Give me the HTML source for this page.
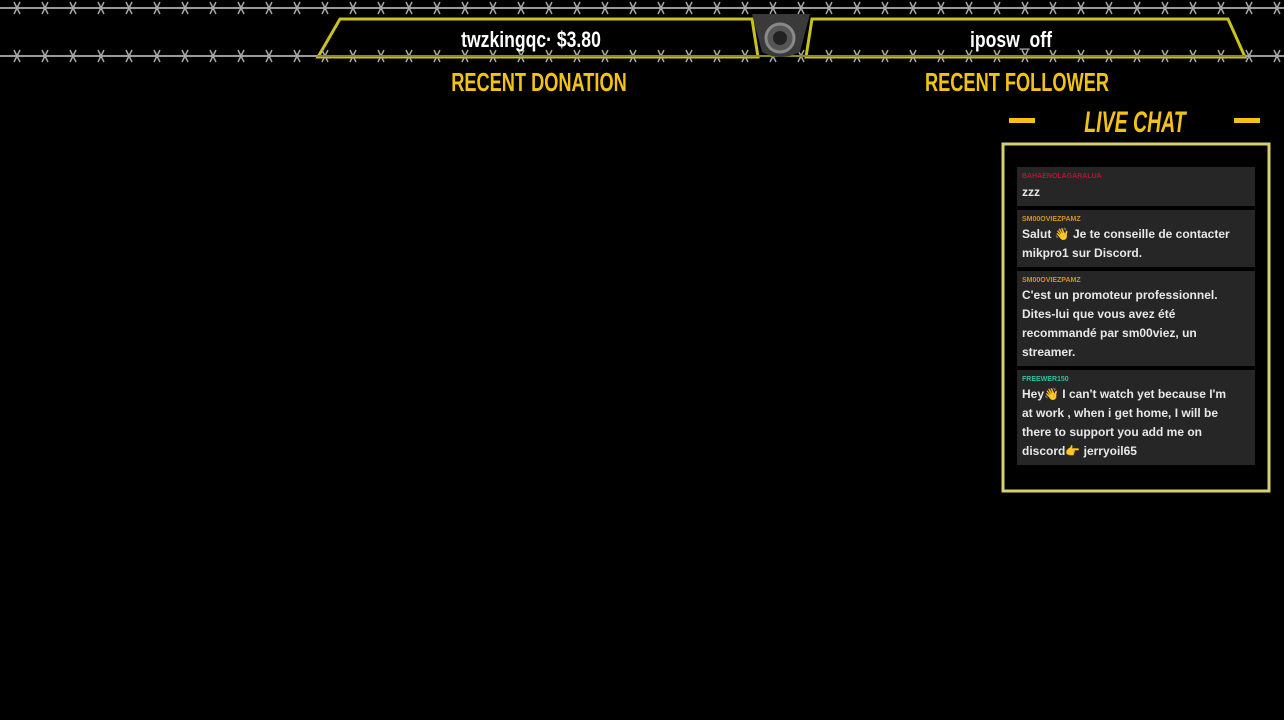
<!DOCTYPE html>
<html><head><meta charset="utf-8"><style>
html,body{margin:0;padding:0;background:#000;width:1284px;height:720px;overflow:hidden}
svg{display:block}
.c{font-family:"Liberation Sans",sans-serif;font-weight:bold}
</style></head><body>
<svg width="1284" height="720" viewBox="0 0 1284 720" xmlns="http://www.w3.org/2000/svg">
<defs>
<pattern id="barb" width="28" height="16" patternUnits="userSpaceOnUse" x="4" y="0">
<line x1="0" y1="8" x2="28" y2="8" stroke="#9a9a9a" stroke-width="2"/>
<line x1="10" y1="2" x2="16" y2="14" stroke="#aaa" stroke-width="1.5"/>
<line x1="16" y1="2" x2="10" y2="14" stroke="#aaa" stroke-width="1.5"/>
</pattern>
</defs>
<rect x="0" y="0" width="1284" height="720" fill="#000"/>
<!-- banner -->
<polygon points="340,19 752,19 758,57 318,57" fill="#000" stroke="#c8c21c" stroke-width="3"/>
<polygon points="812,19 1228,19 1245,57 806,57" fill="#000" stroke="#c8c21c" stroke-width="3"/>
<!-- barbed wires -->
<rect x="0" y="1" width="1284" height="16" fill="url(#barb)"/>
<rect x="0" y="47" width="1284" height="16" fill="url(#barb)"/>
<line x1="318" y1="56" x2="1245" y2="56" stroke="#8a8a20" stroke-width="2"/>
<!-- camera -->
<path d="M752,14 L810,14 L800,52 Q780,62 762,52 Z" fill="#3a3a3a"/>
<circle cx="780" cy="38" r="14" fill="#555" stroke="#888" stroke-width="3"/>
<circle cx="780" cy="38" r="7" fill="#222"/>
<text x="531" y="47" text-anchor="middle" class="c" font-size="22" fill="#fff" transform="translate(531 0) scale(0.8 1) translate(-531 0)">twzkingqc· $3.80</text>
<text x="1011" y="47" text-anchor="middle" class="c" font-size="22" fill="#fff" transform="translate(1011 0) scale(0.8 1) translate(-1011 0)">iposw_off</text>
<text x="539" y="91" text-anchor="middle" class="c" font-size="26" fill="#f2c314" transform="translate(539 0) scale(0.7 1) translate(-539 0)">RECENT DONATION</text>
<text x="1017" y="91" text-anchor="middle" class="c" font-size="26" fill="#f2c314" transform="translate(1017 0) scale(0.7 1) translate(-1017 0)">RECENT FOLLOWER</text>
<rect x="1009" y="118" width="26" height="5" fill="#f2c314"/>
<rect x="1234" y="118" width="26" height="5" fill="#f2c314"/>
<text x="1135" y="132" text-anchor="middle" class="c" font-size="30" font-style="italic" fill="#f2c314" transform="translate(1135 0) scale(0.65 1) translate(-1135 0)">LIVE CHAT</text>
<!-- chat box -->
<rect x="1003" y="144" width="266" height="347" fill="#000" stroke="#d8d070" stroke-width="3"/>
<rect x="1017" y="167" width="238" height="39" fill="#262626"/>
<rect x="1017" y="210" width="238" height="57" fill="#262626"/>
<rect x="1017" y="271" width="238" height="95" fill="#262626"/>
<rect x="1017" y="370" width="238" height="95" fill="#262626"/>
<g font-family="'Liberation Sans',sans-serif" font-weight="bold">
<text x="1022" y="178" font-size="7" fill="#c01030">BAHAENOLAGARALUA</text>
<text x="1022" y="196" font-size="12" fill="#e8e8e8">zzz</text>
<text x="1022" y="221" font-size="7" fill="#d89020">SM00OVIEZPAMZ</text>
<text x="1022" y="238" font-size="12" fill="#e8e8e8">Salut 👋 Je te conseille de contacter</text>
<text x="1022" y="257" font-size="12" fill="#e8e8e8">mikpro1 sur Discord.</text>
<text x="1022" y="282" font-size="7" fill="#d89020">SM00OVIEZPAMZ</text>
<text x="1022" y="299" font-size="12" fill="#e8e8e8">C'est un promoteur professionnel.</text>
<text x="1022" y="318" font-size="12" fill="#e8e8e8">Dites-lui que vous avez été</text>
<text x="1022" y="337" font-size="12" fill="#e8e8e8">recommandé par sm00viez, un</text>
<text x="1022" y="356" font-size="12" fill="#e8e8e8">streamer.</text>
<text x="1022" y="381" font-size="7" fill="#30c0a0">FREEWER150</text>
<text x="1022" y="398" font-size="12" fill="#e8e8e8">Hey👋 I can't watch yet because I'm</text>
<text x="1022" y="417" font-size="12" fill="#e8e8e8">at work , when i get home, I will be</text>
<text x="1022" y="436" font-size="12" fill="#e8e8e8">there to support you add me on</text>
<text x="1022" y="455" font-size="12" fill="#e8e8e8">discord👉 jerryoil65</text>
</g>
</svg>
</body></html>
